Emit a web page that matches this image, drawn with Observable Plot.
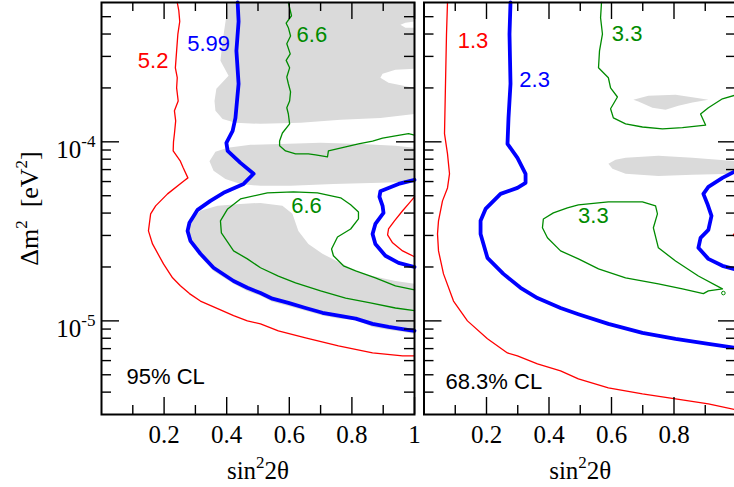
<!DOCTYPE html>
<html><head><meta charset="utf-8">
<script src="https://cdn.jsdelivr.net/npm/d3@7"></script>
<script src="https://cdn.jsdelivr.net/npm/@observablehq/plot@0.6"></script>
<style>
html,body{margin:0;padding:0;background:#fff;overflow:hidden;}
#wrap{position:relative;width:734px;height:487px;overflow:hidden;background:#fff;}
#wrap svg{position:absolute;top:0;max-width:none;}
</style></head><body><div id="wrap"></div>
<script>
// ---------- axes / ticks ----------
const yDomain = [3e-6, 6e-4];
const xMajorTicks = [0.2, 0.4, 0.6, 0.8, 1];
const xMinorTicks = [0.1, 0.3, 0.5, 0.7, 0.9];
const xLabelsLeft = [0.2, 0.4, 0.6, 0.8, 1];
const xLabelsRight = [0.2, 0.4, 0.6, 0.8];
const yMajorTicks = [1e-5, 1e-4];
const yMinorTicks = [4e-6,5e-6,6e-6,7e-6,8e-6,9e-6,2e-5,3e-5,4e-5,5e-5,6e-5,7e-5,8e-5,9e-5,2e-4,3e-4,4e-4,5e-4];
const yLabels = [1e-5, 1e-4];

// ---------- left panel (95% CL): [sin^2 2theta, dm^2] ----------
const leftRed52 = [[0.242,6e-4],[0.247,5.4e-4],[0.250,4.7e-4],[0.244,4.0e-4],[0.240,3.22e-4],[0.236,2.59e-4],[0.242,2.28e-4],[0.240,2.0e-4],[0.245,1.69e-4],[0.233,1.49e-4],[0.237,1.31e-4],[0.233,1.11e-4],[0.230,1.0e-4],[0.229,8.9e-5],[0.252,7.8e-5],[0.261,7.16e-5],[0.276,6.29e-5],[0.263,6.05e-5],[0.211,5.12e-5],[0.173,4.39e-5],[0.157,3.96e-5],[0.150,3.18e-5],[0.163,2.69e-5],[0.198,2.08e-5],[0.227,1.74e-5],[0.252,1.57e-5],[0.281,1.42e-5],[0.316,1.29e-5],[0.371,1.17e-5],[0.422,1.07e-5],[0.466,1.0e-5],[0.508,9.62e-6],[0.565,8.79e-6],[0.652,8.03e-6],[0.757,7.25e-6],[0.866,6.62e-6],[0.962,6.37e-6],[1.0,6.37e-6]];
const leftRed52Inner = [[1.0,4.93e-5],[0.981,4.5e-5],[0.962,4.12e-5],[0.936,3.62e-5],[0.917,3.26e-5],[0.914,3.02e-5],[0.930,2.73e-5],[0.962,2.46e-5],[1.0,2.28e-5]];
const leftBlue599 = [[0.435,6e-4],[0.438,4.7e-4],[0.431,3.22e-4],[0.438,2.11e-4],[0.428,1.36e-4],[0.419,1.15e-4],[0.399,9.87e-5],[0.403,8.9e-5],[0.444,7.63e-5],[0.486,6.63e-5],[0.454,5.82e-5],[0.390,5.19e-5],[0.348,4.68e-5],[0.307,4.17e-5],[0.281,3.53e-5],[0.275,3.18e-5],[0.284,2.8e-5],[0.316,2.37e-5],[0.358,1.98e-5],[0.422,1.67e-5],[0.466,1.53e-5],[0.508,1.43e-5],[0.546,1.33e-5],[0.597,1.26e-5],[0.652,1.18e-5],[0.706,1.11e-5],[0.757,1.07e-5],[0.812,1.03e-5],[0.866,9.62e-6],[0.917,9.25e-6],[0.962,9.0e-6],[1.0,8.8e-6]];
const leftBlue599Inner = [[1.0,6.13e-5],[0.949,5.82e-5],[0.891,5.3e-5],[0.888,4.93e-5],[0.898,4.39e-5],[0.901,4.01e-5],[0.875,3.48e-5],[0.866,3.06e-5],[0.875,2.69e-5],[0.907,2.31e-5],[0.949,2.11e-5],[1.0,2.0e-5]];
const leftGreen66Upper = [[0.597,6e-4],[0.607,5.06e-4],[0.590,4.6e-4],[0.597,4.34e-4],[0.604,3.9e-4],[0.592,3.53e-4],[0.603,3.1e-4],[0.590,2.85e-4],[0.601,2.59e-4],[0.592,2.3e-4],[0.597,2.11e-4],[0.604,1.9e-4],[0.601,1.69e-4],[0.592,1.55e-4],[0.597,1.43e-4],[0.601,1.26e-4],[0.578,1.12e-4],[0.569,1.01e-4],[0.569,9.5e-5],[0.588,8.9e-5],[0.620,8.57e-5],[0.661,8.57e-5],[0.684,8.46e-5],[0.722,8.25e-5],[0.725,8.9e-5],[0.780,9.38e-5],[0.821,9.74e-5],[0.866,1.01e-4],[0.898,1.05e-4],[0.939,1.08e-4],[0.981,1.11e-4],[1.0,1.09e-4]];
const leftGreen66Lower = [[1.0,1.49e-5],[0.939,1.57e-5],[0.875,1.74e-5],[0.812,1.9e-5],[0.773,2.03e-5],[0.741,2.31e-5],[0.735,2.52e-5],[0.754,2.94e-5],[0.796,3.26e-5],[0.821,3.71e-5],[0.821,4.06e-5],[0.796,4.45e-5],[0.764,4.87e-5],[0.690,5.19e-5],[0.613,5.26e-5],[0.530,5.19e-5],[0.444,4.8e-5],[0.403,4.22e-5],[0.380,3.62e-5],[0.383,3.1e-5],[0.422,2.46e-5],[0.466,2.22e-5],[0.508,1.98e-5],[0.565,1.78e-5],[0.620,1.63e-5],[0.700,1.47e-5],[0.780,1.34e-5],[0.859,1.26e-5],[0.939,1.18e-5],[1.0,1.14e-5]];
const leftGrayTop = [[0.403,6e-4],[1.0,6e-4],[1.0,4.7e-4],[0.971,4.62e-4],[0.955,4.5e-4],[0.971,4.34e-4],[1.0,4.34e-4],[1.0,2.56e-4],[0.939,2.53e-4],[0.898,2.4e-4],[0.891,2.28e-4],[0.917,2.14e-4],[1.0,2.0e-4],[1.0,1.43e-4],[0.891,1.36e-4],[0.764,1.33e-4],[0.636,1.28e-4],[0.508,1.26e-4],[0.428,1.28e-4],[0.387,1.34e-4],[0.364,1.49e-4],[0.361,1.69e-4],[0.367,1.98e-4],[0.406,2.34e-4],[0.380,2.84e-4],[0.387,3.66e-4],[0.399,5.06e-4]];
const leftGrayMid = [[0.345,7.8e-5],[0.364,8.79e-5],[0.403,9.26e-5],[0.476,9.62e-5],[0.572,9.74e-5],[0.700,9.87e-5],[0.827,9.74e-5],[0.939,9.5e-5],[1.0,9.26e-5],[1.0,5.98e-5],[0.891,5.9e-5],[0.741,5.82e-5],[0.604,5.68e-5],[0.508,5.68e-5],[0.444,5.82e-5],[0.396,6.21e-5],[0.358,6.9e-5]];
const leftGrayLow = [[0.278,3.53e-5],[0.316,4.12e-5],[0.371,4.39e-5],[0.444,4.5e-5],[0.508,4.56e-5],[0.578,4.39e-5],[0.610,3.96e-5],[0.629,3.18e-5],[0.661,2.69e-5],[0.706,2.37e-5],[0.770,2.08e-5],[0.812,1.9e-5],[0.866,1.78e-5],[0.939,1.67e-5],[1.0,1.61e-5],[1.0,8.45e-6],[0.962,8.69e-6],[0.917,8.91e-6],[0.866,9.25e-6],[0.812,1.01e-5],[0.757,1.03e-5],[0.706,1.07e-5],[0.652,1.14e-5],[0.597,1.21e-5],[0.546,1.28e-5],[0.508,1.38e-5],[0.466,1.47e-5],[0.422,1.61e-5],[0.358,1.9e-5],[0.316,2.28e-5],[0.284,2.76e-5],[0.272,3.18e-5]];
const leftLabels = [
  {x: 0.165, y: 2.82e-4, t: "5.2", s: "red"},
  {x: 0.342, y: 3.51e-4, t: "5.99", s: "blue"},
  {x: 0.672, y: 3.96e-4, t: "6.6", s: "green"},
  {x: 0.655, y: 4.36e-5, t: "6.6", s: "green"}
];

// ---------- right panel (68.3% CL) ----------
const rightRed13 = [[0.0752,6e-4],[0.072,4.0e-4],[0.0688,2.11e-4],[0.0656,1.11e-4],[0.0752,8.57e-5],[0.0816,6.63e-5],[0.0752,5.53e-5],[0.0592,4.68e-5],[0.0464,3.62e-5],[0.0432,3.06e-5],[0.0464,2.46e-5],[0.0624,1.83e-5],[0.0944,1.29e-5],[0.139,1.0e-5],[0.203,7.94e-6],[0.267,6.62e-6],[0.299,6.37e-6],[0.363,5.75e-6],[0.437,5.26e-6],[0.494,4.74e-6],[0.590,4.23e-6],[0.699,3.91e-6],[0.805,3.67e-6],[0.910,3.44e-6],[1.0,3.18e-6]];
const rightRed13Inner = [[1.0,3.2e-5],[0.99,3.02e-5],[1.0,2.85e-5]];
const rightBlue23 = [[0.2768,6e-4],[0.2736,4.0e-4],[0.2768,2.11e-4],[0.2704,1.36e-4],[0.2672,9.74e-5],[0.299,8.14e-5],[0.325,6.63e-5],[0.325,5.9e-5],[0.299,5.53e-5],[0.245,5.12e-5],[0.197,4.22e-5],[0.181,3.62e-5],[0.181,3.06e-5],[0.203,2.25e-5],[0.254,1.83e-5],[0.309,1.53e-5],[0.363,1.34e-5],[0.437,1.18e-5],[0.494,1.09e-5],[0.590,9.62e-6],[0.699,8.57e-6],[0.805,7.94e-6],[0.910,7.44e-6],[1.0,7.06e-6]];
const rightBlue23Inner = [[1.0,6.9e-5],[0.955,6.29e-5],[0.910,5.6e-5],[0.894,5.12e-5],[0.907,4.5e-5],[0.920,3.86e-5],[0.910,3.22e-5],[0.885,2.91e-5],[0.878,2.56e-5],[0.910,2.22e-5],[0.955,2.03e-5],[1.0,1.93e-5]];
const rightGreen33Upper = [[0.568,6e-4],[0.565,4.93e-4],[0.571,4.0e-4],[0.5616,3.22e-4],[0.5584,2.59e-4],[0.590,2.28e-4],[0.597,2.0e-4],[0.619,1.78e-4],[0.597,1.53e-4],[0.606,1.36e-4],[0.645,1.26e-4],[0.699,1.21e-4],[0.763,1.18e-4],[0.827,1.2e-4],[0.901,1.24e-4],[0.885,1.43e-4],[0.910,1.55e-4],[0.955,1.74e-4],[1.0,1.83e-4]];
const rightGreen33Lower = [[0.741,4.39e-5],[0.747,3.96e-5],[0.734,3.31e-5],[0.750,2.56e-5],[0.805,2.16e-5],[0.878,1.78e-5],[0.955,1.51e-5],[0.910,1.47e-5],[0.894,1.42e-5],[0.827,1.51e-5],[0.750,1.61e-5],[0.645,1.74e-5],[0.5584,1.95e-5],[0.494,2.22e-5],[0.437,2.46e-5],[0.395,2.91e-5],[0.379,3.31e-5],[0.382,3.71e-5],[0.414,4.01e-5],[0.459,4.28e-5],[0.494,4.45e-5],[0.590,4.62e-5],[0.699,4.62e-5],[0.741,4.39e-5]];
const rightGreenIsland = [[0.958, 1.43e-5]];
const rightGrayUpper = [[0.670,1.72e-4],[0.718,1.81e-4],[0.805,1.83e-4],[0.869,1.76e-4],[0.910,1.72e-4],[0.859,1.66e-4],[0.814,1.59e-4],[0.773,1.51e-4],[0.731,1.55e-4],[0.686,1.68e-4]];
const rightGrayLower = [[0.590,7.54e-5],[0.613,7.93e-5],[0.645,8.14e-5],[0.750,8.35e-5],[0.859,8.14e-5],[1.0,7.8e-5],[1.0,6.63e-5],[0.859,6.55e-5],[0.750,6.45e-5],[0.645,6.63e-5],[0.603,7.07e-5]];
const rightLabels = [
  {x: 0.157, y: 3.66e-4, t: "1.3", s: "red"},
  {x: 0.354, y: 2.23e-4, t: "2.3", s: "blue"},
  {x: 0.650, y: 3.99e-4, t: "3.3", s: "green"},
  {x: 0.542, y: 3.84e-5, t: "3.3", s: "green"}
];

// ---------- styling ----------
const COLOR = {red: "#ff0000", blue: "#0000ff", green: "#008b00"};
const WIDTH = {red: 1.3, blue: 3.8, green: 1.3};
const GRAY = "#dadada";
const SERIF = "'Liberation Serif', 'Times New Roman', serif";
const SANS = "'Liberation Sans', Arial, sans-serif";
const H = 487, MT = 2, MB = 73;

function panel(o) {
  const fw = o.width - o.marginLeft - o.marginRight;
  const fh = H - MT - MB;
  const P = d => d[0], Q = d => d[1];
  const marks = [];
  o.fills.forEach(f => marks.push(Plot.line(f, {x: P, y: Q, fill: GRAY, stroke: "none", curve: "linear-closed"})));
  o.lines.forEach(([arr, s]) => marks.push(Plot.line(arr, {x: P, y: Q, stroke: COLOR[s], strokeWidth: WIDTH[s], curve: "linear", strokeLinejoin: "round"})));
  if (o.dots) marks.push(Plot.dot(o.dots, {x: P, y: Q, r: 1.8, stroke: COLOR.green, strokeWidth: 1, fill: "none"}));
  const tk = {stroke: "black", strokeWidth: 1.4};
  marks.push(Plot.ruleX(xMajorTicks, {x: d => d, insetTop: fh - 17, ...tk}));
  marks.push(Plot.ruleX(xMajorTicks, {x: d => d, insetBottom: fh - 17, ...tk}));
  marks.push(Plot.ruleX(xMinorTicks, {x: d => d, insetTop: fh - 9, ...tk}));
  marks.push(Plot.ruleX(xMinorTicks, {x: d => d, insetBottom: fh - 9, ...tk}));
  marks.push(Plot.ruleY(yMajorTicks, {y: d => d, insetRight: fw - 18, ...tk}));
  marks.push(Plot.ruleY(yMajorTicks, {y: d => d, insetLeft: fw - 18, ...tk}));
  marks.push(Plot.ruleY(yMinorTicks, {y: d => d, insetRight: fw - 10, ...tk}));
  marks.push(Plot.ruleY(yMinorTicks, {y: d => d, insetLeft: fw - 10, ...tk}));
  marks.push(Plot.frame({stroke: "black", strokeWidth: 2}));
  marks.push(Plot.axisX(o.xLabels, {tickSize: 0, tickPadding: 11, fontSize: 25, fontFamily: SERIF, tickFormat: d => String(d), fill: "black", label: null}));
  if (o.showY) {
    marks.push(Plot.axisY(yLabels, {tickSize: 0, tickPadding: 6, fontSize: 25, fontFamily: SERIF, dy: 8, fill: "black", label: null,
      tickFormat: d => "10^{" + Math.round(Math.log10(d)) + "}"}));
    marks.push(Plot.text([0], {frameAnchor: "left", dx: -72, rotate: -90, textAnchor: "middle", lineAnchor: "middle",
      text: () => "\u0394m^{2}\u00a0\u00a0[eV^{2}]", fontSize: 26, fontFamily: SERIF, fill: "black"}));
  }
  marks.push(Plot.text([0], {frameAnchor: "bottom", dy: 56, textAnchor: "middle", lineAnchor: "middle",
    text: () => "sin^{2}2\u03b8", fontSize: 25, fontFamily: SERIF, fill: "black"}));
  o.labels.forEach(l => marks.push(Plot.text([l], {x: "x", y: "y", text: "t", fill: COLOR[l.s], fontSize: 22, fontFamily: SANS})));
  marks.push(Plot.text([0], {frameAnchor: "bottom-left", dx: o.clDx, dy: o.clDy, text: () => o.cl, textAnchor: "start", lineAnchor: "middle",
    fontSize: 22, fontFamily: SANS, fill: "black"}));
  const svg = Plot.plot({
    width: o.width, height: H,
    marginLeft: o.marginLeft, marginRight: o.marginRight, marginTop: MT, marginBottom: MB,
    x: {domain: [0, 1], axis: null},
    y: {type: "log", domain: yDomain, axis: null},
    style: {background: "transparent", overflow: "visible", fontFamily: SERIF},
    marks
  });
  supify(svg);
  svg.style.left = o.left + "px";
  return svg;
}

function supify(svg) {
  svg.querySelectorAll("text").forEach(t => {
    const s = t.textContent;
    if (!s.includes("^{")) return;
    const parts = s.split(/\^\{([^}]*)\}/);
    while (t.firstChild) t.removeChild(t.firstChild);
    let raised = false;
    parts.forEach((p, i) => {
      if (p === "") return;
      const ts = document.createElementNS("http://www.w3.org/2000/svg", "tspan");
      ts.textContent = p;
      if (i % 2 === 1) { ts.setAttribute("font-size", "17px"); ts.setAttribute("dy", "-11"); raised = true; }
      else if (raised) { ts.setAttribute("dy", "11"); raised = false; }
      t.appendChild(ts);
    });
  });
}

const wrap = document.getElementById("wrap");
wrap.appendChild(panel({
  left: 0, width: 418, marginLeft: 101, marginRight: 4, xLabels: xLabelsLeft, showY: true,
  fills: [leftGrayTop, leftGrayMid, leftGrayLow],
  lines: [[leftRed52, "red"], [leftRed52Inner, "red"], [leftGreen66Upper, "green"], [leftGreen66Lower, "green"], [leftBlue599, "blue"], [leftBlue599Inner, "blue"]],
  labels: leftLabels, cl: "95% CL", clDx: 25, clDy: -38
}));
wrap.appendChild(panel({
  left: 418, width: 324, marginLeft: 5.5, marginRight: 6, xLabels: xLabelsRight, showY: false,
  fills: [rightGrayUpper, rightGrayLower],
  lines: [[rightRed13, "red"], [rightRed13Inner, "red"], [rightGreen33Upper, "green"], [rightGreen33Lower, "green"], [rightBlue23, "blue"], [rightBlue23Inner, "blue"]],
  dots: rightGreenIsland,
  labels: rightLabels, cl: "68.3% CL", clDx: 21.5, clDy: -33
}));
</script>
</body></html>
